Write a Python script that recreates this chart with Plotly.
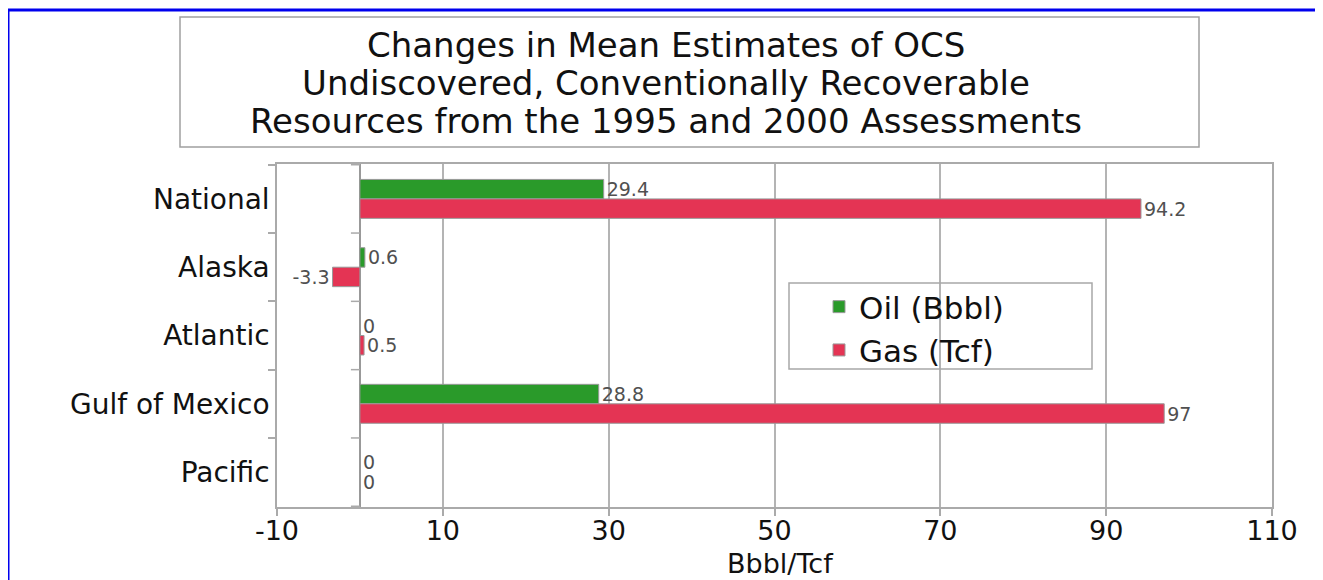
import plotly.graph_objects as go

# ---------------- data ----------------
categories = ["National", "Alaska", "Atlantic", "Gulf of Mexico", "Pacific"]
oil_values = [29.4, 0.6, 0, 28.8, 0]
gas_values = [94.2, -3.3, 0.5, 97, 0]
series_names = ["Oil (Bbbl)", "Gas (Tcf)"]
x_tick_values = [-10, 10, 30, 50, 70, 90, 110]
title_lines = [
    "Changes in Mean Estimates of OCS",
    "Undiscovered, Conventionally Recoverable",
    "Resources from the 1995 and 2000 Assessments",
]
x_axis_title = "Bbbl/Tcf"

# ---------------- layout helpers ----------------
OFF = 8  # page body margin of the browser
W, H = 1323 - OFF, 580 - OFF
# plot area in screenshot pixels
SL, SR, ST, SB = 277, 1272, 164, 507
PL, PR, PT, PB = SL - OFF, SR - OFF, ST - OFF, SB - OFF


def px_x(sx):
    return (sx - OFF - PL) / (PR - PL)


def px_y(sy):
    return (PB - (sy - OFF)) / (PB - PT)


FONT = "DejaVu Sans"
OIL_COLOR = "#2a9a2a"
GAS_COLOR = "#e43454"
GRAY = "#aaaaaa"

fig = go.Figure()
for name, vals, col in [(series_names[0], oil_values, OIL_COLOR),
                        (series_names[1], gas_values, GAS_COLOR)]:
    fig.add_trace(go.Bar(
        y=categories, x=vals, name=name, orientation="h",
        marker=dict(color=col, line=dict(color="#999999", width=1)),
        text=[f"{v:g}" for v in vals], textposition="outside",
        textfont=dict(family=FONT, size=19, color="#505050"),
        constraintext="none", cliponaxis=False,
    ))

shapes = []
# outer blue frame
shapes.append(dict(type="rect", xref="paper", yref="paper",
                   x0=px_x(8), x1=px_x(1320), y0=px_y(600), y1=px_y(10),
                   line=dict(color="#0000ee", width=3), layer="above"))
# title box
shapes.append(dict(type="rect", xref="paper", yref="paper",
                   x0=px_x(180), x1=px_x(1199), y0=px_y(147), y1=px_y(17),
                   line=dict(color="#a0a0a0", width=1.5)))
# legend box
shapes.append(dict(type="rect", xref="paper", yref="paper",
                   x0=px_x(789), x1=px_x(1092), y0=px_y(369), y1=px_y(283),
                   line=dict(color="#a8a8a8", width=1.5)))
# category ticks along the zero line
for i in range(len(categories) + 1):
    b = i - 0.5
    shapes.append(dict(type="line", xref="x", yref="y", xsizemode="pixel",
                       xanchor=0, x0=-9, x1=0, y0=b, y1=b,
                       line=dict(color=GRAY, width=1.5)))

annotations = []
for line, sy in zip(title_lines, [45, 83, 121]):
    annotations.append(dict(text=line, xref="paper", yref="paper",
                            x=px_x(666), y=px_y(sy), xanchor="center",
                            yanchor="middle", showarrow=False,
                            font=dict(family=FONT, size=34, color="#111111")))
annotations.append(dict(text=x_axis_title, xref="paper", yref="paper",
                        x=px_x(780), y=px_y(563), xanchor="center",
                        yanchor="middle", showarrow=False,
                        font=dict(family=FONT, size=27, color="#111111")))

fig.update_layout(
    width=W, height=H,
    margin=dict(l=PL, r=W - PR, t=PT, b=H - PB, autoexpand=False),
    paper_bgcolor="white", plot_bgcolor="white",
    barmode="group", bargap=0.43, bargroupgap=0,
    font=dict(family=FONT, color="#111111"),
    shapes=shapes, annotations=annotations,
    legend=dict(x=px_x(819), y=px_y(280), xanchor="left", yanchor="top",
                borderwidth=0, bgcolor="rgba(0,0,0,0)",
                font=dict(family=FONT, size=31, color="#111111"),
                traceorder="normal", itemwidth=30, tracegroupgap=0),
    xaxis=dict(range=[-10, 110], tickvals=x_tick_values,
               ticktext=[str(v) for v in x_tick_values],
               ticks="outside", ticklen=7, tickcolor=GRAY, tickwidth=1.5,
               ticklabelstandoff=-8,
               showgrid=True, gridcolor="#b4b4b4", gridwidth=1.5,
               zeroline=True, zerolinecolor="#999999", zerolinewidth=1.5,
               showline=True, linecolor=GRAY, linewidth=2, mirror=True,
               tickfont=dict(family=FONT, size=27, color="#111111")),
    yaxis=dict(autorange="reversed", ticks="outside", tickson="boundaries",
               ticklen=7, tickcolor=GRAY, tickwidth=1.5,
               showgrid=False, showline=True, linecolor=GRAY, linewidth=1.5,
               mirror=True,
               tickfont=dict(family=FONT, size=28, color="#111111")),
)

fig.write_html("out.html")
